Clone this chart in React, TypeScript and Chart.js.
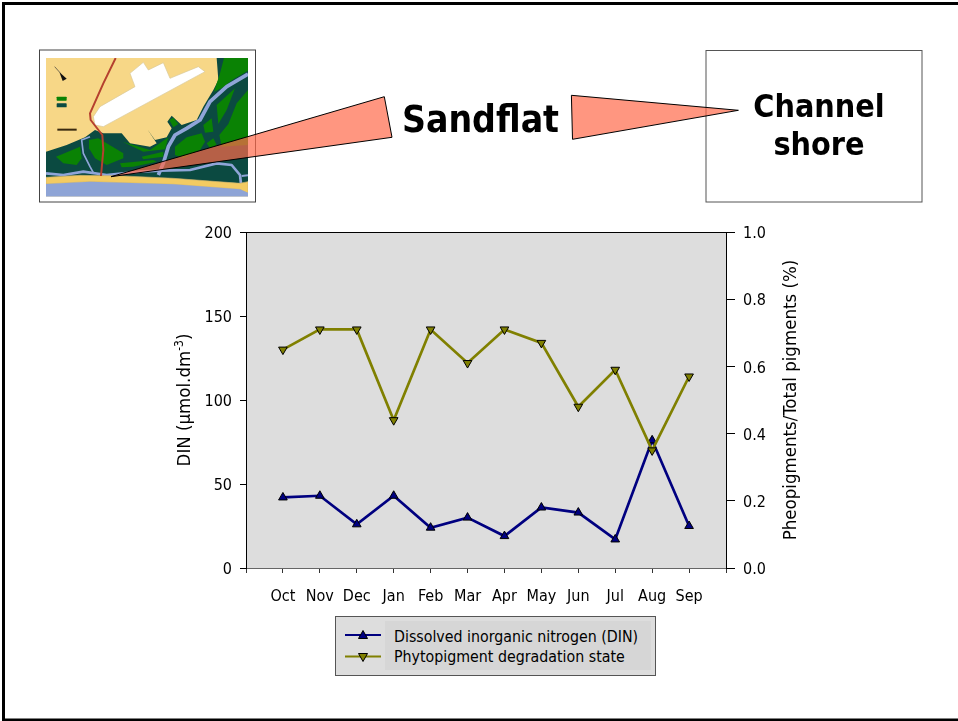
import React, { useEffect, useRef } from "react";
import { Chart, registerables } from "chart.js";

Chart.register(...registerables);

const months = ["", "Oct", "Nov", "Dec", "Jan", "Feb", "Mar", "Apr", "May", "Jun", "Jul", "Aug", "Sep", ""];
const dinValues = [null, 42, 43, 26, 43, 24, 30, 19, 36, 33, 17, 76, 25, null];
const degradationValues = [null, 0.65, 0.71, 0.71, 0.44, 0.71, 0.61, 0.71, 0.67, 0.48, 0.59, 0.35, 0.57, null];
const dinLabel = "Dissolved inorganic nitrogen (DIN)";
const degradationLabel = "Phytopigment degradation state";
const leftTitle = "DIN (μmol.dm";
const leftTitleSup = "-3";
const rightTitle = "Pheopigments/Total pigments (%)";

const FONT = "'DejaVu Sans Condensed', 'DejaVu Sans', sans-serif";
const NAVY = "#000080";
const OLIVE = "#808000";

const plotBackground = {
  id: "plotBackground",
  beforeDraw(chart: any) {
    const { ctx, chartArea: a } = chart;
    ctx.save();
    ctx.fillStyle = "#dddddd";
    ctx.fillRect(a.left, a.top, a.width, a.height);
    ctx.restore();
  },
};

function pts(list: number[][]) {
  return list.map((p) => p.join(",")).join(" ");
}

const mapGreen: number[][][] = [
  [[552, 24], [624, 24], [624, 62], [580, 88], [545, 115], [522, 125], [540, 70]],
  [[624, 120], [590, 160], [565, 222], [538, 255], [545, 290], [624, 285]],
  [[530, 165], [585, 115], [560, 180], [535, 222]],
  [[405, 290], [440, 262], [485, 250], [495, 275], [480, 300], [430, 325], [405, 315]],
  [[147, 270], [175, 265], [250, 310], [250, 325], [200, 345], [165, 325], [147, 295]],
  [[48, 320], [120, 290], [125, 325], [110, 345], [70, 340]],
  [[248, 275], [330, 300], [385, 262], [375, 298], [310, 305]],
  [[305, 320], [370, 305], [370, 320], [310, 328]],
  [[240, 340], [340, 330], [350, 335], [280, 350], [245, 352]],
  [[500, 280], [520, 265], [530, 285], [510, 295]],
  [[490, 225], [515, 205], [520, 245], [495, 248]],
  [[388, 210], [400, 203], [415, 222], [400, 232]],
];

function MapInset() {
  return (
    <g transform="translate(40,50) scale(0.33333)">
      <defs>
        <clipPath id="mapClip"><rect x="18" y="24" width="606" height="416" /></clipPath>
      </defs>
      <g clipPath="url(#mapClip)">
        <rect x="18" y="24" width="606" height="416" fill="#f7d787" />
        <polygon
          fill="#0b4a41"
          points={pts([[18, 305], [80, 285], [135, 262], [165, 240], [190, 250], [245, 250], [270, 280], [330, 290], [350, 280], [322, 238], [345, 270], [380, 262], [395, 235], [382, 215], [395, 197], [425, 225], [470, 210], [490, 170], [520, 120], [535, 90], [530, 24], [624, 24], [624, 400], [18, 385]])}
        />
        {mapGreen.map((p, i) => <polygon key={i} fill="#0a8204" points={pts(p)} />)}
        <g fill="none" stroke="#8fa5d8" strokeLinejoin="round">
          <polyline strokeWidth="11" points={pts([[624, 72], [560, 110], [510, 155], [480, 210], [440, 235], [405, 255], [385, 290], [370, 340], [355, 375]])} />
          <polyline strokeWidth="8" points={pts([[18, 370], [70, 375], [130, 365], [200, 375], [300, 365], [360, 362], [450, 360], [530, 340], [575, 345], [600, 375], [605, 420]])} />
          <polyline strokeWidth="6" points={pts([[605, 378], [624, 376]])} />
          <polyline strokeWidth="5" points={pts([[150, 260], [125, 270], [130, 310], [150, 350], [160, 368]])} />
        </g>
        <polygon fill="#f3cb62" stroke="#c9b070" strokeWidth="2" points={pts([[18, 382], [120, 376], [250, 378], [400, 385], [600, 400], [624, 395], [624, 430], [600, 418], [400, 403], [150, 395], [18, 402]])} />
        <polygon fill="#8ea4d6" points={pts([[18, 402], [150, 395], [400, 403], [600, 418], [624, 428], [624, 440], [18, 440]])} />
        <polygon fill="#ffffff" stroke="#d8c89a" strokeWidth="2" points={pts([[270, 70], [310, 37], [325, 60], [370, 38], [390, 85], [475, 50], [495, 65], [190, 230], [165, 225], [160, 200], [180, 170], [285, 110]])} />
        <polyline fill="none" stroke="#b5402f" strokeWidth="6" strokeLinejoin="round" points={pts([[227, 24], [190, 100], [150, 190], [152, 210], [187, 255], [190, 300], [183, 378]])} />
        <rect x="50" y="140" width="30" height="12" rx="2" fill="#0a8204" />
        <rect x="50" y="160" width="30" height="12" rx="2" fill="#0b4a41" />
        <rect x="52" y="236" width="58" height="6" fill="#3a2a10" />
        <polygon fill="#111" points={pts([[58, 66], [80, 86], [68, 93]])} />
        <line x1="44" y1="50" x2="60" y2="68" stroke="#333" strokeWidth="2" />
      </g>
    </g>
  );
}

function Overlay() {
  const callout = "rgba(255,105,74,0.7)";
  return (
    <svg width="958" height="721" style={{ position: "absolute", left: 0, top: 0, pointerEvents: "none" }}>
      {/* slide frame */}
      <rect x="3.5" y="3.5" width="1000" height="716.5" fill="none" stroke="#000" strokeWidth="3" />
      {/* map inset */}
      <rect x="39.5" y="50" width="216" height="152" fill="#fff" stroke="#444" strokeWidth="1" />
      <MapInset />
      {/* channel shore box */}
      <rect x="706" y="50.5" width="216" height="151.5" fill="#fff" stroke="#555" strokeWidth="1" />
      <polygon fill={callout} stroke="#000" strokeWidth="1" points="111,176.7 384.3,96.7 392,137.3" />
      <polygon fill={callout} stroke="#000" strokeWidth="1" points="571.4,95.3 738.4,110.3 572.5,139.3" />
      <g fontFamily={FONT} fontWeight="bold" fill="#000" textAnchor="middle">
        <text x="480.5" y="132" fontSize="37">Sandflat</text>
        <text x="819" y="117" fontSize="32">Channel</text>
        <text x="819" y="155" fontSize="32">shore</text>
      </g>
      {/* axis titles */}
      <g fontFamily={FONT} fontSize="18.5" fill="#000" textAnchor="middle">
        <text transform="translate(190,400) rotate(-90)">
          {leftTitle}
          <tspan fontSize="12" dy="-7">{leftTitleSup}</tspan>
          <tspan dy="7">)</tspan>
        </text>
        <text transform="translate(796,400) rotate(-90)">{rightTitle}</text>
      </g>
      {/* legend */}
      <rect x="335.5" y="616.5" width="320" height="59" fill="#dddddd" stroke="#555" strokeWidth="1" />
      <rect x="385" y="621" width="266" height="49" fill="#d6d6d6" />
      <line x1="345" y1="635" x2="381" y2="635" stroke={NAVY} strokeWidth="2" />
      <polygon points="363,630.5 358.5,638.5 367.5,638.5" fill={NAVY} stroke="#000" strokeWidth="1" />
      <line x1="345" y1="656.5" x2="381" y2="656.5" stroke={OLIVE} strokeWidth="2" />
      <polygon points="363,661.5 358.5,653.5 367.5,653.5" fill={OLIVE} stroke="#000" strokeWidth="1" />
      <g fontFamily={FONT} fontSize="15.8" fill="#000">
        <text x="394" y="642">{dinLabel}</text>
        <text x="394" y="662">{degradationLabel}</text>
      </g>
    </svg>
  );
}

export default function App() {
  const ref = useRef<HTMLCanvasElement>(null);
  useEffect(() => {
    const fix = (w: number) => (s: any) => { s.width = w; };
    const tickFont = { family: FONT, size: 16 };
    const chart = new Chart(ref.current!, {
      type: "line",
      data: {
        labels: months,
        datasets: [
          {
            label: degradationLabel,
            data: degradationValues,
            yAxisID: "y2",
            order: 0,
            borderColor: OLIVE,
            borderWidth: 2.7,
            pointStyle: "triangle",
            rotation: 180,
            radius: 5,
            pointBackgroundColor: OLIVE,
            pointBorderColor: "#000",
            pointBorderWidth: 1,
            tension: 0,
          },
          {
            label: dinLabel,
            data: dinValues,
            yAxisID: "y",
            order: 1,
            borderColor: NAVY,
            borderWidth: 2.7,
            pointStyle: "triangle",
            radius: 5,
            pointBackgroundColor: NAVY,
            pointBorderColor: "#000",
            pointBorderWidth: 1,
            tension: 0,
          },
        ],
      } as any,
      options: {
        animation: false,
        responsive: false,
        devicePixelRatio: 1,
        layout: { padding: { left: 186, right: 172, top: 232, bottom: 113 } },
        plugins: { legend: { display: false }, tooltip: { enabled: false } },
        scales: {
          x: {
            offset: false,
            afterFit: (s: any) => { s.height = 40; },
            border: { color: "#666666", width: 1 },
            grid: { drawOnChartArea: false, tickLength: 5, tickColor: "#333333" },
            ticks: { autoSkip: false, maxRotation: 0, font: tickFont, color: "#000", padding: 14 },
          },
          y: {
            position: "left",
            min: 0,
            max: 200,
            afterFit: fix(60),
            border: { color: "#000", width: 1 },
            grid: {
              tickLength: 6,
              tickColor: "#000",
              color: (c: any) => (c.tick && c.tick.value === 200 ? "#000" : "rgba(0,0,0,0)"),
            },
            ticks: { stepSize: 50, font: tickFont, color: "#000", padding: 8, labelOffset: 2 },
          },
          y2: {
            position: "right",
            min: 0,
            max: 1,
            afterFit: fix(60),
            border: { color: "#000", width: 1 },
            grid: { drawOnChartArea: false, tickLength: 9, tickColor: "#000" },
            ticks: {
              stepSize: 0.2,
              font: tickFont,
              color: "#000",
              padding: 8,
              labelOffset: 2,
              callback: (v: any) => Number(v).toFixed(1),
            },
          },
        },
      },
      plugins: [plotBackground],
    } as any);
    return () => chart.destroy();
  }, []);
  return (
    <div style={{ position: "absolute", left: 0, top: 0, width: 958, height: 721, background: "#fff", overflow: "hidden" }}>
      <canvas ref={ref} width={958} height={721} style={{ position: "absolute", left: 0, top: 0 }} />
      <Overlay />
    </div>
  );
}
